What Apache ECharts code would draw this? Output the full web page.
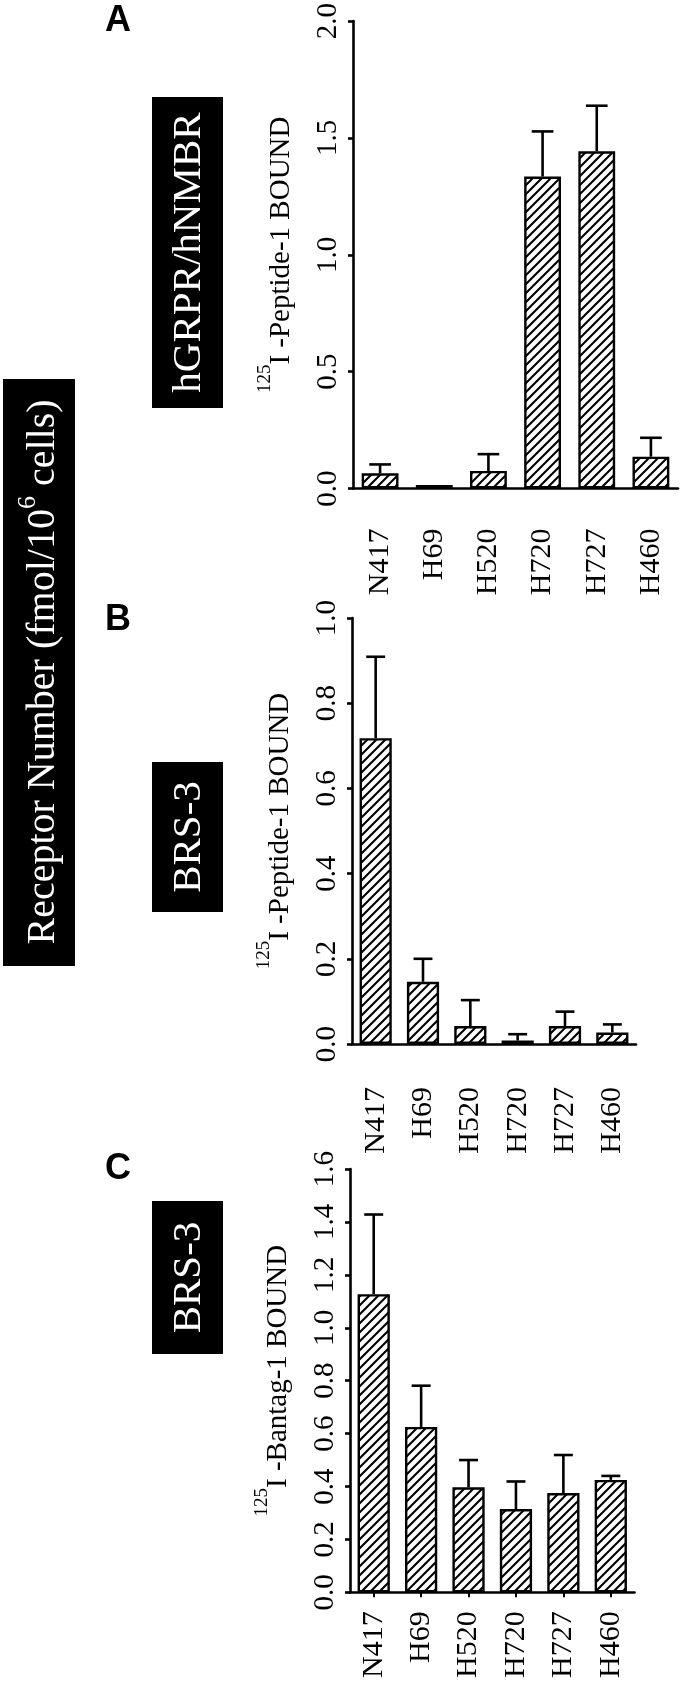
<!DOCTYPE html>
<html>
<head>
<meta charset="utf-8">
<script src="https://cdn.jsdelivr.net/npm/echarts@6/dist/echarts.min.js"></script>
<style>
	html, body { margin: 0; padding: 0; background: #fff; }
	#chart { width: 680px; height: 1681px; }
</style>
</head>
<body>
<div id="chart"></div>
<script>
const cellLines = ['N417', 'H69', 'H520', 'H720', 'H727', 'H460'];

// panel A - 125I-Peptide-1 on hGRPR/hNMBR
const peptideGrprMean = [0.065, 0.015, 0.075, 1.335, 1.443, 0.136];
const peptideGrprErr = [0.038, 0, 0.072, 0.193, 0.195, 0.081];
// panel B - 125I-Peptide-1 on BRS-3
const peptideBrsMean = [0.718, 0.146, 0.042, 0.008, 0.042, 0.027];
const peptideBrsErr = [0.191, 0.054, 0.061, 0.015, 0.034, 0.019];
// panel C - 125I-Bantag-1 on BRS-3
const bantagBrsMean = [1.127, 0.625, 0.397, 0.315, 0.375, 0.425];
const bantagBrsErr = [0.301, 0.156, 0.103, 0.104, 0.144, 0.015];

// y axis ticks [min, max, step]
const ticksA = [0, 2.0, 0.5];
const ticksB = [0, 1.0, 0.2];
const ticksC = [0, 1.6, 0.2];

const panelLetters = ['A', 'B', 'C'];
const receptorNames = ['hGRPR/hNMBR', 'BRS-3', 'BRS-3'];
const yTitles = ['I -Peptide-1 BOUND', 'I -Peptide-1 BOUND', 'I -Bantag-1 BOUND'];

const serif = "'Liberation Serif', 'Times New Roman', serif";

function hatch() {
	let c = document.createElement('canvas');
	c.width = 9;
	c.height = 9;
	let g = c.getContext('2d');
	g.fillStyle = '#fff';
	g.fillRect(0, 0, 9, 9);
	g.strokeStyle = '#000';
	g.lineWidth = 2.1;
	g.beginPath();
	g.moveTo(-1, 10); g.lineTo(10, -1);
	g.moveTo(-1, 1); g.lineTo(1, -1);
	g.moveTo(8, 10); g.lineTo(10, 8);
	g.stroke();
	return c;
}
const hatchFill = { image: hatch(), repeat: 'repeat' };

function errorBar(params, api) {
	let i = api.value(0);
	let base = api.coord([i, api.value(1)]);
	let top = api.coord([i, api.value(2)]);
	let half = api.size([1, 0])[0] * 0.2;
	if (base[1] - top[1] < 1) return;
	let st = { stroke: '#000', lineWidth: 2.6 };
	return {
		type: 'group',
		children: [
			{ type: 'line', shape: { x1: base[0], y1: base[1], x2: top[0], y2: top[1] }, style: st },
			{ type: 'line', shape: { x1: top[0] - half, y1: top[1], x2: top[0] + half, y2: top[1] }, style: st }
		]
	};
}

const grids = [
	{ left: 353, top: 20, width: 325, height: 468.5 },
	{ left: 352, top: 618, width: 284, height: 426 },
	{ left: 350, top: 1169, width: 284.5, height: 428 }
];
const ticks = [ticksA, ticksB, ticksC];
const means = [peptideGrprMean, peptideBrsMean, bantagBrsMean];
const errs = [peptideGrprErr, peptideBrsErr, bantagBrsErr];
const catMargins = [40, 43, 19];

let xAxes = [], yAxes = [], series = [];
for (let k = 0; k < 3; k++) {
	xAxes.push({
		type: 'category',
		gridIndex: k,
		data: cellLines,
		axisLine: { lineStyle: { color: '#000', width: 2.6 } },
		axisTick: { show: k === 2, alignWithLabel: true, length: 5, lineStyle: { color: '#000', width: 2 } },
		axisLabel: { rotate: 90, margin: catMargins[k], color: '#000', fontFamily: serif, fontSize: 30 }
	});
	yAxes.push({
		type: 'value',
		gridIndex: k,
		min: ticks[k][0],
		max: ticks[k][1],
		interval: ticks[k][2],
		splitLine: { show: false },
		axisLine: { show: true, lineStyle: { color: '#000', width: 2.6 } },
		axisTick: { show: true, length: 5, lineStyle: { color: '#000', width: 2.6 } },
		axisLabel: {
			rotate: 90, margin: 10, color: '#000', fontFamily: serif, fontSize: 29,
			formatter: v => v.toFixed(1)
		},
		name: '{s|125}{m|' + yTitles[k] + '}',
		nameLocation: 'middle',
		nameGap: 57,
		nameTextStyle: {
			rich: {
				s: { fontSize: 19, fontFamily: serif, color: '#000', verticalAlign: 'top', lineHeight: 19 },
				m: { fontSize: 29, fontFamily: serif, color: '#000', verticalAlign: 'bottom', lineHeight: 40 }
			}
		}
	});
	series.push({
		type: 'bar',
		xAxisIndex: k,
		yAxisIndex: k,
		data: means[k],
		barWidth: '68%',
		itemStyle: { color: hatchFill, borderColor: '#000', borderWidth: 2.4 },
		z: 2
	});
	series.push({
		type: 'custom',
		xAxisIndex: k,
		yAxisIndex: k,
		renderItem: errorBar,
		data: means[k].map((m, i) => [i, m, m + errs[k][i]]),
		encode: { x: 0, y: [1, 2] },
		z: 3
	});
}

// black label boxes and panel letters
const boxes = [
	{ x: 152, y: 97, w: 71, h: 311 },
	{ x: 152, y: 762, w: 71, h: 150 },
	{ x: 152, y: 1201, w: 71, h: 153 }
];
const letterY = [21, 620, 1169];
let graphic = [
	{ type: 'rect', shape: { x: 3, y: 379, width: 72, height: 587 }, style: { fill: '#000' } },
	{
		type: 'text', x: 39, y: 672, rotation: Math.PI / 2,
		style: {
			text: '{a|Receptor Number (fmol/10}{s|6}{a| cells)}',
			align: 'center', verticalAlign: 'middle',
			rich: {
				a: { fontSize: 40, fontFamily: serif, fill: '#fff', verticalAlign: 'bottom', lineHeight: 48 },
				s: { fontSize: 26, fontFamily: serif, fill: '#fff', verticalAlign: 'top', lineHeight: 26 }
			}
		}
	}
];
boxes.forEach((b, k) => {
	graphic.push({ type: 'rect', shape: { x: b.x, y: b.y, width: b.w, height: b.h }, style: { fill: '#000' } });
	graphic.push({
		type: 'text', x: b.x + b.w / 2 + 2, y: b.y + b.h / 2, rotation: Math.PI / 2,
		style: { text: receptorNames[k], fill: '#fff', font: '41px ' + serif, align: 'center', verticalAlign: 'middle' }
	});
	graphic.push({
		type: 'text', x: 118, y: letterY[k],
		style: { text: panelLetters[k], fill: '#000', font: 'bold 36px "Liberation Sans", Arial, sans-serif', align: 'center', verticalAlign: 'middle' }
	});
});

let chart = echarts.init(document.getElementById('chart'));
chart.setOption({
	animation: false,
	backgroundColor: '#fff',
	grid: grids,
	xAxis: xAxes,
	yAxis: yAxes,
	series: series,
	graphic: graphic
});
</script>
</body>
</html>
